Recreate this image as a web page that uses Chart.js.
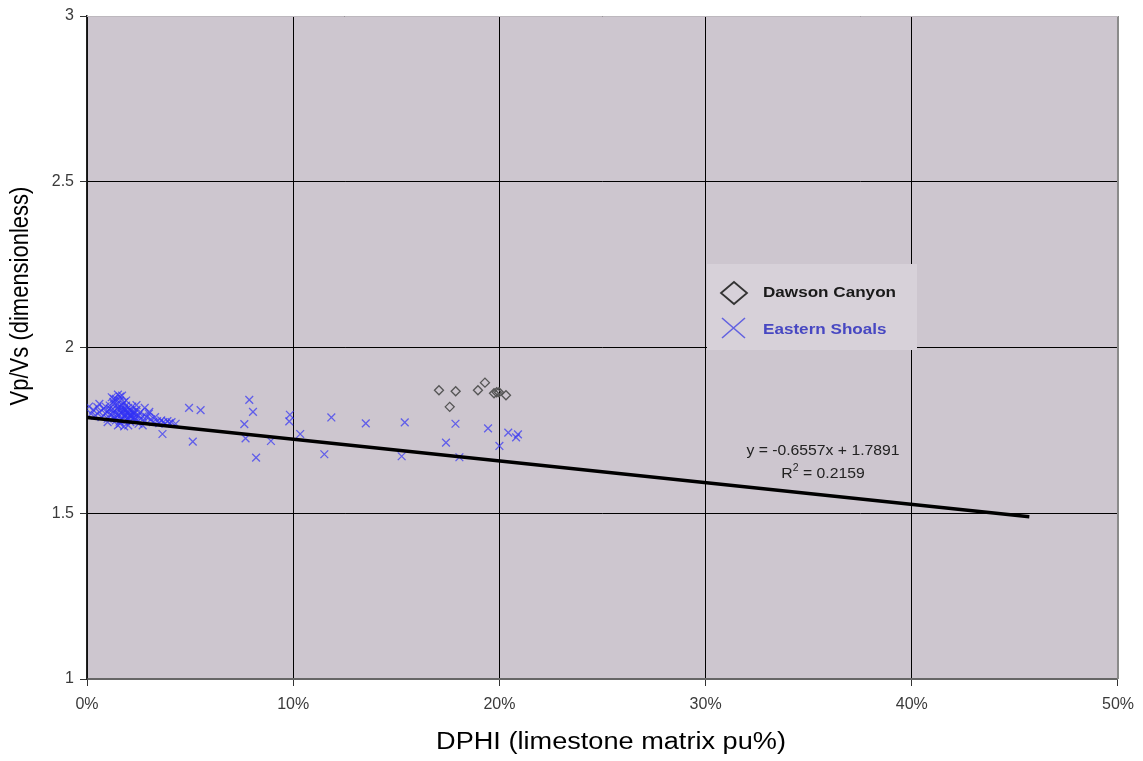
<!DOCTYPE html>
<html>
<head>
<meta charset="utf-8">
<script src="https://cdn.jsdelivr.net/npm/chart.js@4"></script>
<style>
html,body{margin:0;padding:0;background:#fff;}
#wrap{width:1143px;height:761px;position:relative;}
</style>
</head>
<body>
<div id="wrap"><canvas id="c"></canvas></div>
<script>
// ---- data ----
const seriesNames = ["Dawson Canyon", "Eastern Shoals"];
const dcX = [0.1707,0.1788,0.1759,0.1896,0.1930,0.1974,0.1987,0.1998,0.2032];
const dcY = [1.871,1.868,1.821,1.871,1.894,1.862,1.865,1.865,1.856];
const esX = [0.002,0.003,0.004,0.005,0.006,0.007,0.008,0.009,0.010,0.010,
  0.011,0.011,0.012,0.012,0.013,0.013,0.014,0.014,0.014,0.015,
  0.015,0.015,0.016,0.016,0.016,0.017,0.017,0.017,0.017,0.018,
  0.018,0.018,0.018,0.019,0.019,0.019,0.020,0.020,0.020,0.021,
  0.021,0.021,0.022,0.022,0.022,0.023,0.023,0.024,0.024,0.025,
  0.025,0.026,0.026,0.027,0.028,0.028,0.029,0.030,0.031,0.032,
  0.033,0.034,0.035,0.036,0.037,0.038,0.039,0.040,0.041,0.043,
  0.006,0.009,0.013,0.016,0.019,0.024,0.010,0.020,0.027,0.015,0.001,
  0.0125,0.0135,0.0145,0.0155,0.0165,0.0175,0.0185,0.0195,0.0205,0.0215,
  0.0225,0.0235,0.0128,0.0148,0.0168,0.0188,0.0208,0.0228,0.0110,0.0158,
  0.0302,0.0366,0.0495,0.0513,0.0551,0.0763,0.0769,0.0787,0.0805,0.0820,
  0.0892,0.0981,0.0984,0.1034,0.1151,0.1185,0.1352,0.1526,0.1541,0.1741,
  0.1787,0.1806,0.1945,0.2000,0.2043,0.2081,0.2090];
const esY = [1.800,1.812,1.795,1.820,1.805,1.790,1.815,1.800,1.808,1.785,
  1.825,1.797,1.850,1.812,1.790,1.830,1.805,1.845,1.780,1.858,
  1.820,1.795,1.840,1.810,1.770,1.855,1.826,1.800,1.785,1.835,
  1.815,1.793,1.762,1.825,1.805,1.780,1.818,1.800,1.788,1.812,
  1.795,1.775,1.822,1.806,1.785,1.800,1.790,1.812,1.780,1.795,
  1.770,1.805,1.785,1.792,1.818,1.778,1.790,1.800,1.783,1.775,
  1.790,1.778,1.772,1.780,1.775,1.770,1.778,1.772,1.775,1.770,
  1.830,1.822,1.845,1.852,1.840,1.826,1.775,1.765,1.765,1.765,1.822,
  1.802,1.788,1.815,1.798,1.782,1.808,1.797,1.786,1.803,1.791,
  1.799,1.784,1.836,1.828,1.818,1.812,1.794,1.806,1.816,1.776,
  1.806,1.739,1.818,1.716,1.811,1.769,1.726,1.842,1.806,1.668,
  1.718,1.777,1.797,1.739,1.678,1.789,1.771,1.672,1.774,1.713,
  1.770,1.669,1.756,1.703,1.743,1.729,1.738];
const trendSlope = -0.6557;
const trendIntercept = 1.7891;
const trendR2 = 0.2159;
const trendRange = [0, 0.457];
const xTicks = [0, 0.1, 0.2, 0.3, 0.4, 0.5];
const yTicks = [1, 1.5, 2, 2.5, 3];
const xTitle = "DPHI (limestone matrix pu%)";
const yTitle = "Vp/Vs (dimensionless)";

// ---- build ----
const toPts = (xs, ys) => xs.map((x, i) => ({x: x, y: ys[i]}));
const trendPts = trendRange.map(x => ({x: x, y: trendIntercept + trendSlope * x}));
const FONT = "'Liberation Sans', Arial, sans-serif";
const PLOT_BG = "#cdc6cf";

function stretchedText(ctx, txt, x, y, font, color, align, sx) {
  ctx.save();
  ctx.font = font;
  ctx.fillStyle = color;
  ctx.textBaseline = "middle";
  const w = ctx.measureText(txt).width * sx;
  let left = x;
  if (align === "center") left = x - w / 2;
  else if (align === "right") left = x - w;
  ctx.translate(left, y);
  ctx.scale(sx, 1);
  ctx.textAlign = "left";
  ctx.fillText(txt, 0, 0);
  ctx.restore();
  return w;
}

const decor = {
  id: "decor",
  beforeDraw(chart) {
    const {ctx, chartArea: a} = chart;
    ctx.save();
    ctx.fillStyle = PLOT_BG;
    ctx.fillRect(a.left, a.top, a.right - a.left, a.bottom - a.top);
    ctx.restore();
  },
  afterDatasetsDraw(chart) {
    const {ctx, chartArea: a} = chart;
    ctx.save();
    ctx.strokeStyle = "#8a8a8a";
    ctx.lineWidth = 2;
    ctx.beginPath();
    ctx.moveTo(a.right, a.top); ctx.lineTo(a.right, a.bottom);
    ctx.stroke();
    ctx.strokeStyle = "#bdb8be";
    ctx.lineWidth = 1;
    ctx.beginPath();
    ctx.moveTo(a.left, a.top + 0.5); ctx.lineTo(a.right, a.top + 0.5);
    ctx.stroke();
    ctx.restore();
  },
  afterDraw(chart) {
    const {ctx} = chart;
    stretchedText(ctx, xTitle, 611, 743, "23px " + FONT, "#000", "center", 1.18);
    ctx.save();
    ctx.translate(21, 296);
    ctx.rotate(-Math.PI / 2);
    ctx.scale(1, 1.15);
    ctx.font = "22px " + FONT;
    ctx.fillStyle = "#000";
    ctx.textAlign = "center";
    ctx.textBaseline = "middle";
    ctx.fillText(yTitle, 0, 0);
    ctx.restore();

    // legend box
    ctx.save();
    ctx.fillStyle = "#d7d1d9";
    ctx.fillRect(707, 264, 210, 86);
    ctx.strokeStyle = "#333";
    ctx.lineWidth = 1.8;
    ctx.beginPath();
    ctx.moveTo(734, 282); ctx.lineTo(747, 293); ctx.lineTo(734, 304); ctx.lineTo(721, 293); ctx.closePath();
    ctx.stroke();
    ctx.strokeStyle = "rgba(85,85,225,0.9)";
    ctx.lineWidth = 1.6;
    ctx.beginPath();
    ctx.moveTo(722, 318); ctx.lineTo(745, 338);
    ctx.moveTo(745, 318); ctx.lineTo(722, 338);
    ctx.stroke();
    ctx.restore();
    stretchedText(ctx, seriesNames[0], 763, 293, "bold 15px " + FONT, "#1a1a1a", "left", 1.14);
    stretchedText(ctx, seriesNames[1], 763, 330, "bold 15px " + FONT, "#4747c2", "left", 1.14);

    // trendline equation
    const sgn = trendSlope < 0 ? "-" : "";
    const eq = "y = " + sgn + Math.abs(trendSlope).toFixed(4) + "x + " + trendIntercept.toFixed(4);
    stretchedText(ctx, eq, 823, 451, "15px " + FONT, "#222", "center", 1.05);
    ctx.save();
    const sx = 1.05;
    ctx.font = "15px " + FONT;
    const wR = ctx.measureText("R").width * sx;
    ctx.font = "10px " + FONT;
    const w2 = ctx.measureText("2").width * sx;
    ctx.font = "15px " + FONT;
    const rest = " = " + trendR2.toFixed(4);
    const wRest = ctx.measureText(rest).width * sx;
    ctx.restore();
    const left = 823 - (wR + w2 + wRest) / 2;
    stretchedText(ctx, "R", left, 474, "15px " + FONT, "#222", "left", sx);
    stretchedText(ctx, "2", left + wR, 468, "10px " + FONT, "#222", "left", sx);
    stretchedText(ctx, rest, left + wR + w2, 474, "15px " + FONT, "#222", "left", sx);
  }
};

new Chart(document.getElementById("c"), {
  type: "scatter",
  data: {
    datasets: [
      {
        type: "line",
        label: "Linear",
        data: trendPts,
        borderColor: "#000",
        borderWidth: 3.5,
        pointRadius: 0,
        fill: false
      },
      {
        label: seriesNames[0],
        data: toPts(dcX, dcY),
        pointStyle: "rectRot",
        pointRadius: 4.5,
        borderColor: "#555",
        backgroundColor: "rgba(0,0,0,0)",
        borderWidth: 1.3
      },
      {
        label: seriesNames[1],
        data: toPts(esX, esY),
        pointStyle: "crossRot",
        pointRadius: 5.5,
        borderColor: "rgba(50,50,245,0.7)",
        backgroundColor: "rgba(50,50,245,0.7)",
        borderWidth: 1.3
      }
    ]
  },
  options: {
    responsive: true,
    maintainAspectRatio: false,
    animation: false,
    layout: {padding: {top: 16, right: 25, left: 0, bottom: 0}},
    plugins: {legend: {display: false}, tooltip: {enabled: false}},
    scales: {
      x: {
        type: "linear",
        min: 0, max: 0.5,
        afterBuildTicks: s => { s.ticks = xTicks.map(v => ({value: v})); },
        afterFit: s => { s.height = 82; },
        ticks: {
          callback: v => Math.round(v * 100) + "%",
          font: {family: FONT, size: 16},
          color: "#3a3a3a",
          padding: 9,
          maxRotation: 0
        },
        grid: {color: "#000", lineWidth: 1, tickLength: 7, tickColor: "#333", drawTicks: true},
        border: {color: "#666", width: 2}
      },
      y: {
        type: "linear",
        min: 1, max: 3,
        afterBuildTicks: s => { s.ticks = yTicks.map(v => ({value: v})); },
        afterFit: s => { s.width = 87; },
        ticks: {
          callback: v => String(v),
          font: {family: FONT, size: 16},
          color: "#3a3a3a",
          padding: 6
        },
        grid: {color: "#000", lineWidth: 1, tickLength: 7, tickColor: "#333", drawTicks: true},
        border: {color: "#222", width: 1.5}
      }
    }
  },
  plugins: [decor]
});
</script>
</body>
</html>
